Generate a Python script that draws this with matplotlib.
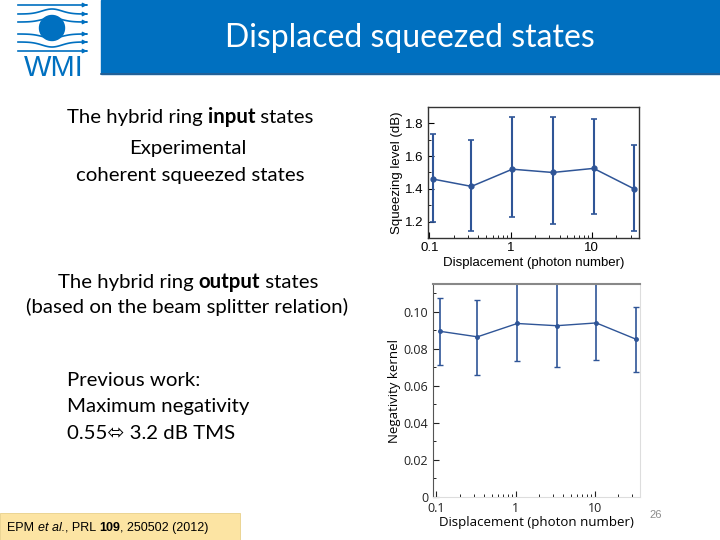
import numpy as np
import matplotlib
matplotlib.use("Agg")
import matplotlib.pyplot as plt
from matplotlib.patches import Rectangle, Circle
from matplotlib.ticker import FixedLocator, NullFormatter, LogLocator

# -------------------------
# DATA
# -------------------------
disp = [0.11, 0.33, 1.05, 3.3, 10.5, 33]          # displacement (photon number)

sq_mean = [1.46, 1.415, 1.52, 1.50, 1.525, 1.40]  # squeezing level (dB)
sq_hi = [1.735, 1.70, 1.84, 1.84, 1.825, 1.665]
sq_lo = [1.20, 1.14, 1.23, 1.185, 1.245, 1.145]

neg_mean = [0.0895, 0.0865, 0.0937, 0.0925, 0.094, 0.0853]  # negativity kernel
neg_hi = [0.1072, 0.1063, 0.120, 0.120, 0.120, 0.1027]
neg_lo = [0.0713, 0.066, 0.0734, 0.0703, 0.074, 0.0677]

sq_ticks = [1.2, 1.4, 1.6, 1.8]
neg_ticks = [0, 0.02, 0.04, 0.06, 0.08, 0.10]
neg_labels = ["0", "0.02", "0.04", "0.06", "0.08", "0.10"]

BLUE = "#0070C0"
DATA_BLUE = "#2F5597"

fig = plt.figure(figsize=(7.2, 5.4), dpi=100)

# -------------------------
# SLIDE DECORATION (pixel coordinates)
# -------------------------
deco = fig.add_axes([0, 0, 1, 1])
deco.set_xlim(0, 720)
deco.set_ylim(540, 0)
deco.axis("off")

deco.add_patch(Rectangle((101, 0), 619, 74, color=BLUE, zorder=1))
deco.plot([101, 720], [74, 74], color="#2a5d8f", lw=1.2, zorder=2)
deco.text(410, 38, "Displaced squeezed states", color="white", fontsize=23,
          family="Lato", ha="center", va="center")

# logo
deco.add_patch(Circle((52, 28), 12.5, color=BLUE, zorder=3))
xs = np.linspace(18, 86, 120)
for y0, bump in [(5, 0), (14, -5), (22, -4), (34, 4), (42, 5), (51, 0)]:
    ys = y0 + bump * np.exp(-((xs - 52) / 14) ** 2)
    deco.plot(xs, ys, color=BLUE, lw=1.2, zorder=2)
    deco.annotate("", xy=(90, y0), xytext=(84, y0),
                  arrowprops=dict(arrowstyle="-|>", color=BLUE, lw=1,
                                  mutation_scale=6))
deco.text(54, 76, "WMI", color=BLUE, fontsize=21, family="Liberation Sans",
          ha="center", va="baseline")

renderer = fig.canvas.get_renderer()


def rich_text(x, y, parts, size=14.7, family="Lato", center=True):
    widths = []
    artists = []
    for s, w in parts:
        t = deco.text(0, y, s, fontsize=size, family=family, fontweight=w,
                      va="baseline", ha="left")
        widths.append(t.get_window_extent(renderer).width)
        artists.append(t)
    total = sum(widths)
    cur = x - total / 2 if center else x
    for t, w in zip(artists, widths):
        t.set_x(cur)
        cur += w


rich_text(190, 123, [("The hybrid ring ", "normal"), ("input", "bold"), (" states", "normal")])
rich_text(188, 154, [("Experimental", "normal")])
rich_text(190, 181, [("coherent squeezed states", "normal")])
rich_text(188, 288, [("The hybrid ring ", "normal"), ("output", "bold"), (" states", "normal")])
rich_text(187, 313, [("(based on the beam splitter relation)", "normal")])
for yy, s in [(386, "Previous work:"), (412, "Maximum negativity")]:
    rich_text(67, yy, [(s, "normal")], center=False)
deco.text(67, 439, "0.55\u2b04 3.2 dB TMS", fontsize=14.7, family=["Lato", "DejaVu Sans"],
          va="baseline", ha="left")

# citation box
deco.add_patch(Rectangle((0, 513), 240, 27, facecolor="#FCE4A3", edgecolor="#e8d08a",
                         lw=0.6, zorder=1))
cite = [("EPM ", "normal", "normal"), ("et al.", "normal", "italic"), (", PRL ", "normal", "normal"),
        ("109", "bold", "normal"), (", 250502 (2012)", "normal", "normal")]
cx = 7
for s, w, st in cite:
    t = deco.text(cx, 531, s, fontsize=9, family="Liberation Sans", fontweight=w,
                  fontstyle=st, va="baseline", ha="left", zorder=3)
    cx += t.get_window_extent(renderer).width

deco.text(656, 515, "26", fontsize=8, color="#8c8c8c", family="Liberation Sans",
          ha="center", va="center")

# -------------------------
# TOP PLOT: SQUEEZING LEVEL
# -------------------------
ax1 = fig.add_axes([0.5944, 0.5593, 0.2931, 0.2426])
err1 = [np.array(sq_mean) - np.array(sq_lo), np.array(sq_hi) - np.array(sq_mean)]
ax1.errorbar(disp, sq_mean, yerr=err1, color=DATA_BLUE, marker="o", ms=3.5,
             lw=1.1, elinewidth=1.5, capsize=2.5, capthick=1.2)
ax1.set_xscale("log")
ax1.set_xlim(0.0963, 38)
ax1.set_ylim(1.1, 1.9)
ax1.set_yticks(sq_ticks)
ax1.yaxis.set_minor_locator(FixedLocator([1.3, 1.5, 1.7]))
ax1.set_xticks([0.1, 1, 10])
ax1.set_xticklabels(["0.1", "1", "10"])
ax1.xaxis.set_minor_locator(LogLocator(base=10, subs=np.arange(2, 10)))
ax1.xaxis.set_minor_formatter(NullFormatter())
ax1.tick_params(direction="in", labelsize=9.5, length=4, width=0.8, pad=3)
ax1.tick_params(which="minor", direction="in", length=2, width=0.6)
for lab in ax1.get_xticklabels() + ax1.get_yticklabels():
    lab.set_family("Liberation Sans")
ax1.set_ylabel("Squeezing level (dB)", fontsize=9.5, family="Liberation Sans", labelpad=2)
ax1.set_xlabel("Displacement (photon number)", fontsize=9.5, family="Liberation Sans",
               labelpad=2)
for sp in ax1.spines.values():
    sp.set_linewidth(1.0)
    sp.set_color("#333333")

# -------------------------
# BOTTOM PLOT: NEGATIVITY KERNEL
# -------------------------
ax2 = fig.add_axes([0.6014, 0.0796, 0.2875, 0.3944])
err2 = [np.array(neg_mean) - np.array(neg_lo), np.array(neg_hi) - np.array(neg_mean)]
ax2.errorbar(disp, neg_mean, yerr=err2, color=DATA_BLUE, marker="o", ms=2.5,
             lw=1.0, elinewidth=1.2, capsize=2.5, capthick=1.0)
ax2.set_xscale("log")
ax2.set_xlim(0.0905, 37.5)
ax2.set_ylim(0, 0.115)
ax2.set_yticks(neg_ticks)
ax2.set_yticklabels(neg_labels)
ax2.yaxis.set_minor_locator(FixedLocator([0.01, 0.03, 0.05, 0.07, 0.09, 0.11]))
ax2.set_xticks([0.1, 1, 10])
ax2.set_xticklabels(["0.1", "1", "10"])
ax2.xaxis.set_minor_locator(LogLocator(base=10, subs=np.arange(2, 10)))
ax2.xaxis.set_minor_formatter(NullFormatter())
ax2.tick_params(direction="in", labelsize=9, length=4, width=0.8, colors="#222222")
ax2.tick_params(which="minor", direction="in", length=2, width=0.6)
for lab in ax2.get_xticklabels() + ax2.get_yticklabels():
    lab.set_family("Open Sans")
ax2.set_ylabel("Negativity kernel", fontsize=9.5, family="Open Sans", labelpad=2)
ax2.set_xlabel("Displacement (photon number)", fontsize=9.5, family="Open Sans", labelpad=1)
ax2.spines["top"].set_color("#888888")
ax2.spines["top"].set_linewidth(1.5)
ax2.spines["right"].set_color("#dddddd")
ax2.spines["bottom"].set_color("#dddddd")
ax2.spines["left"].set_color("#555555")

fig.savefig("out.png", dpi=100)
